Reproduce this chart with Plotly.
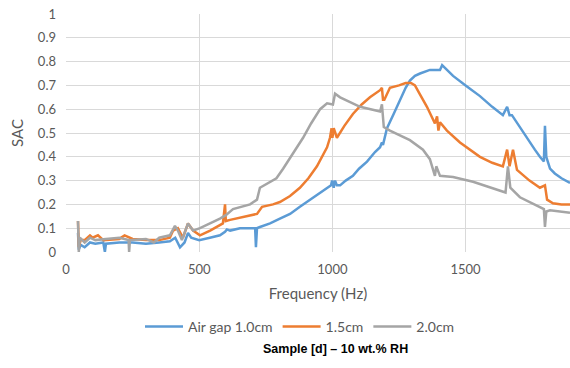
import plotly.graph_objects as go

# Air gap 1.0 cm (blue)
f_blue = [45, 48, 55, 70, 90, 110, 140, 146, 150, 200, 250, 300, 350, 390, 410, 428, 445, 458, 470, 500,
          540, 578, 597, 604, 616, 653, 691, 710, 713, 717, 728, 766, 803, 841, 878, 916, 954, 980, 995,
          999, 1005, 1010, 1017, 1029, 1050, 1077, 1100, 1130, 1160, 1179, 1186, 1190, 1198, 1205, 1230,
          1254, 1275, 1291, 1310, 1329, 1350, 1366, 1393, 1404, 1412, 1430, 1453, 1500, 1554, 1600, 1640,
          1656, 1665, 1674, 1700, 1731, 1760, 1779, 1794, 1798, 1803, 1817, 1835, 1860, 1892]
sac_blue = [0.08, 0.01, 0.03, 0.02, 0.04, 0.035, 0.04, 0.0, 0.035, 0.04, 0.04, 0.035, 0.04, 0.045, 0.06, 0.02,
            0.04, 0.08, 0.06, 0.05, 0.06, 0.07, 0.085, 0.095, 0.09, 0.1, 0.1, 0.1, 0.02, 0.1, 0.105, 0.12, 0.14,
            0.16, 0.19, 0.22, 0.25, 0.27, 0.28, 0.30, 0.27, 0.30, 0.28, 0.28, 0.30, 0.32, 0.35, 0.38, 0.42,
            0.44, 0.46, 0.45, 0.49, 0.52, 0.58, 0.64, 0.69, 0.72, 0.74, 0.75, 0.76, 0.765, 0.765, 0.765, 0.785,
            0.765, 0.74, 0.70, 0.655, 0.61, 0.575, 0.61, 0.575, 0.575, 0.53, 0.48, 0.43, 0.40, 0.38, 0.53, 0.40,
            0.35, 0.33, 0.31, 0.29]

# 1.5 cm (orange)
f_orange = [45, 48, 55, 70, 90, 100, 120, 140, 200, 220, 250, 300, 350, 390, 402, 420, 439, 458, 477, 503,
            541, 589, 597, 600, 616, 653, 717, 736, 777, 803, 841, 878, 910, 942, 980, 991, 997, 1000, 1005,
            1017, 1045, 1077, 1110, 1141, 1179, 1186, 1190, 1195, 1216, 1250, 1275, 1295, 1310, 1325, 1355,
            1385, 1393, 1398, 1404, 1430, 1479, 1554, 1600, 1640, 1656, 1665, 1678, 1693, 1740, 1779, 1798,
            1806, 1828, 1860, 1892]
sac_orange = [0.13, 0.02, 0.05, 0.05, 0.07, 0.06, 0.07, 0.05, 0.055, 0.07, 0.055, 0.05, 0.05, 0.06, 0.09, 0.1,
              0.06, 0.12, 0.09, 0.07, 0.09, 0.12, 0.2, 0.13, 0.135, 0.145, 0.16, 0.19, 0.2, 0.21, 0.235, 0.27,
              0.31, 0.36, 0.44, 0.48, 0.52, 0.48, 0.52, 0.48, 0.53, 0.58, 0.62, 0.65, 0.68, 0.69, 0.64, 0.64,
              0.69, 0.70, 0.71, 0.71, 0.70, 0.67, 0.61, 0.54, 0.57, 0.51, 0.545, 0.51, 0.46, 0.40, 0.375, 0.36,
              0.43, 0.36, 0.43, 0.345, 0.30, 0.27, 0.28, 0.22, 0.205, 0.20, 0.20]

# 2.0 cm (gray)
f_gray = [45, 48, 52, 70, 90, 110, 150, 200, 235, 237, 240, 300, 330, 350, 390, 409, 420, 435, 458, 477, 503,
          541, 578, 600, 627, 691, 717, 728, 760, 790, 815, 850, 890, 920, 954, 980, 1002, 1010, 1029, 1104,
          1179, 1186, 1193, 1216, 1291, 1340, 1366, 1385, 1390, 1404, 1453, 1528, 1629, 1650, 1659, 1668,
          1704, 1779, 1794, 1798, 1803, 1817, 1892]
sac_gray = [0.13, 0.0, 0.06, 0.04, 0.06, 0.05, 0.055, 0.06, 0.05, 0.0, 0.05, 0.055, 0.04, 0.06, 0.07, 0.11,
            0.09, 0.05, 0.12, 0.09, 0.1, 0.12, 0.14, 0.155, 0.18, 0.2, 0.22, 0.27, 0.29, 0.31, 0.35, 0.41, 0.48,
            0.54, 0.60, 0.625, 0.62, 0.665, 0.65, 0.61, 0.59, 0.62, 0.525, 0.51, 0.47, 0.43, 0.39, 0.32, 0.36,
            0.32, 0.315, 0.295, 0.26, 0.25, 0.36, 0.27, 0.23, 0.19, 0.18, 0.105, 0.17, 0.175, 0.165]

series_names = ["Air gap 1.0cm", "1.5cm", "2.0cm"]
x_ticks = [0, 500, 1000, 1500]
y_ticks = [0, 0.1, 0.2, 0.3, 0.4, 0.5, 0.6, 0.7, 0.8, 0.9, 1]
y_tick_text = ["0", "0.1", "0.2", "0.3", "0.4", "0.5", "0.6", "0.7", "0.8", "0.9", "1"]

colors = ["#5B9BD5", "#ED7D31", "#A5A5A5"]
TXT = "#595959"
FONT = "Lato"

fig = go.Figure()
for fx, fy, name, c in zip([f_blue, f_orange, f_gray], [sac_blue, sac_orange, sac_gray], series_names, colors):
    fig.add_trace(go.Scatter(x=fx, y=fy, mode="lines", name=name,
                             line=dict(color=c, width=2.5)))

fig.update_layout(
    width=570, height=368,
    margin=dict(l=66, r=0, t=14, b=116),
    paper_bgcolor="white", plot_bgcolor="white",
    font=dict(family=FONT, color=TXT, size=13),
    showlegend=True,
    legend=dict(orientation="h", x=(300 - 66) / 504, xanchor="center", y=-0.315, yanchor="middle",
                font=dict(family=FONT, size=14, color=TXT), itemwidth=38,
                bgcolor="rgba(0,0,0,0)"),
    xaxis=dict(range=[0, 1892], tickvals=x_ticks, showgrid=True, gridcolor="#D9D9D9", gridwidth=1,
               zeroline=False, showline=False, ticks="", ticklabelstandoff=8,
               tickfont=dict(family=FONT, size=13, color=TXT),
               title=dict(text="Frequency (Hz)", font=dict(family=FONT, size=15, color=TXT), standoff=12)),
    yaxis=dict(range=[0, 1], tickvals=y_ticks, ticktext=y_tick_text, showgrid=True, gridcolor="#D9D9D9",
               gridwidth=1, zeroline=False, showline=False, ticks="", ticklabelstandoff=9,
               tickfont=dict(family=FONT, size=13, color=TXT),
               title=dict(text="SAC", font=dict(family=FONT, size=15, color=TXT), standoff=10)),
    annotations=[dict(text="<b>Sample [d] – 10 wt.% RH</b>", xref="paper", yref="paper",
                      x=(335 - 66) / 504, y=(252 - 349) / 238, xanchor="center", yanchor="middle",
                      showarrow=False, font=dict(family="Liberation Sans", size=12.5, color="black"))],
)

fig.write_html("out.html")
